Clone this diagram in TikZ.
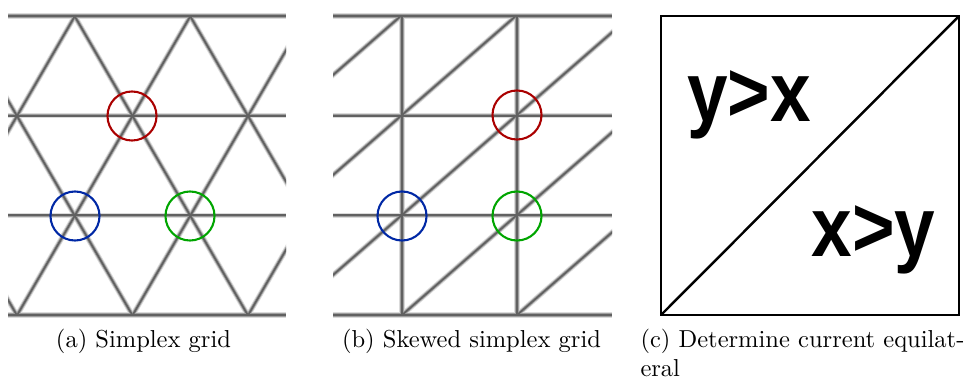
\documentclass[tikz,border=0pt]{standalone}
\usepackage{fontspec}
\newfontfamily\ineqfont{Liberation Sans}
\usetikzlibrary{positioning}
\definecolor{ringred}{RGB}{170,0,0}
\definecolor{ringblue}{RGB}{0,40,165}
\definecolor{ringgreen}{RGB}{0,165,0}

\begin{document}
\begin{tikzpicture}[
      x=0.408pt, y=-0.408pt,
      halo/.style={draw=black!14, line width=2.2pt},
      mid/.style={draw=black!38, line width=1.4pt},
      core/.style={draw=black!62, line width=0.7pt},
      ring/.style={circle, draw, line width=0.85pt, minimum size=20pt, inner sep=0pt},
      captext/.style={inner sep=0pt, anchor=base},
      ineq/.style={font=\ineqfont\bfseries\fontsize{34.6}{40}\selectfont,
                   inner sep=0pt, anchor=base},
    ]
    \useasboundingbox (0,0) rectangle (971,380);

    % (a) simplex grid
    \foreach \pass in {halo,mid,core} {
      \begin{scope}
        \clip (8,16) rectangle (286,315);
        \foreach \k in {-4,...,6} {
          \draw[\pass] ({17+115.5*\k-57.75*3},{116-99.7*3}) -- ({17+115.5*\k+57.75*3},{116+99.7*3});
          \draw[\pass] ({17+115.5*\k+57.75*3},{116-99.7*3}) -- ({17+115.5*\k-57.75*3},{116+99.7*3});
        }
      \end{scope}
      \foreach \y in {16,115.7,215.3,315}
        \draw[\pass] (8,\y) -- (286,\y);
    }
    \node[ring, draw=ringred] (reda) at (132,116) {};
    \node[ring, draw=ringblue] (bluea) at (75,216) {};
    \node[ring, draw=ringgreen] (greena) at (190,216) {};

    % (b) skewed simplex grid
    \foreach \pass in {halo,mid,core} {
      \begin{scope}
        \clip (333,16) rectangle (612,315);
        \foreach \n in {-6,...,3}
          \draw[\pass] ({402+115*\n-115},415) -- ({402+115*\n+115*4},-85);
      \end{scope}
      \foreach \x in {402,517}
        \draw[\pass] (\x,16) -- (\x,315);
      \foreach \y in {16,115.7,215.3,315}
        \draw[\pass] (333,\y) -- (612,\y);
    }
    \node[ring, draw=ringred] (redb) at (517,115) {};
    \node[ring, draw=ringblue] (blueb) at (402,216) {};
    \node[ring, draw=ringgreen] (greenb) at (517,216) {};

    % (c) current equilateral
    \coordinate (sqbl) at (661,315);
    \coordinate (sqtr) at (959,16);
    \draw[line width=1.2pt] (sqbl) rectangle (sqtr);
    \draw[line width=1pt] (sqbl) -- (sqtr);
    \node[ineq] (ygx) at (749,122) {\scalebox{0.86}[1]{y>x}};
    \node[ineq] (xgy) at (873.5,257) {\scalebox{0.86}[1]{x>y}};

    % captions
    \node[captext] (capa) at (143.5,347) {(a) Simplex grid};
    \node[captext] (capb) at (471.5,347) {(b) Skewed simplex grid};
    \node[captext, anchor=north west, align=left] (capc) at (640,328.6)
      {(c) Determine current equilat-\\eral};
  \end{tikzpicture}
\end{document}
